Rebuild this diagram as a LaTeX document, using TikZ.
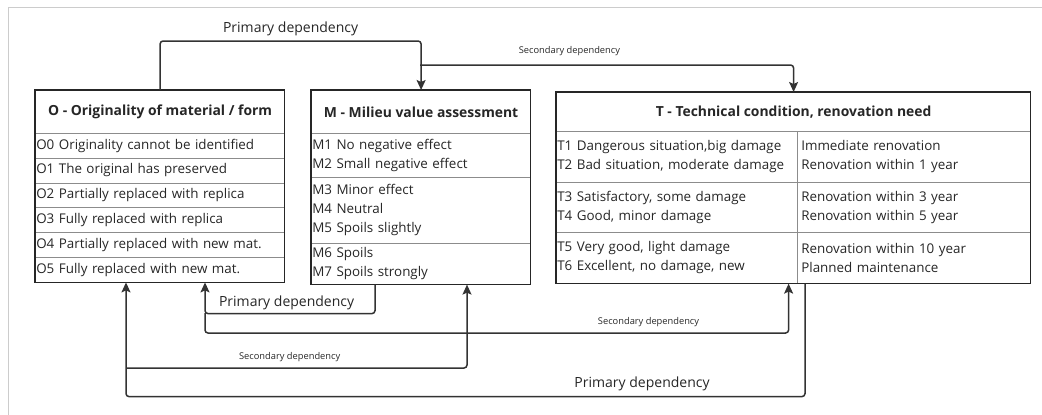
\documentclass[tikz,border=0pt]{standalone}
\usepackage{fontspec}
\setmainfont{Open Sans}
\usetikzlibrary{arrows.meta,positioning}

\begin{document}
\begin{tikzpicture}[x=1pt,y=-1pt,
    dep/.style={draw=black!80,line width=1.5pt,rounded corners=3pt,
      -{Stealth[length=10pt,width=9pt,inset=2pt]}},
    head/.style={draw=black!85,line width=1.2pt,anchor=north west,inner sep=0pt,
      font=\bfseries\fontsize{13.9}{16}\selectfont,text=black!85},
    cell/.style={draw=black!45,line width=0.6pt,anchor=north west,inner xsep=1pt,
      inner ysep=0pt,align=left,font=\fontsize{13.4}{19}\selectfont,text=black!85},
    frame/.style={draw=black!85,line width=1.2pt},
    plbl/.style={font=\fontsize{14}{16}\selectfont,text=black!85},
    slbl/.style={font=\fontsize{9.3}{11}\selectfont,text=black!85}]
  \useasboundingbox (0,0) rectangle (1042,415);
  \draw[black!20,line width=0.8pt] (8,415) -- (8,7) -- (1042,7);

  % O - originality
  \node[head,minimum width=249pt,minimum height=43pt] (Ohead) at (35,90)
    {O - Originality of material / form};
  \foreach \txt [count=\i from 0] in {{O0 Originality cannot be identified},
      {O1 The original has preserved},{O2 Partially replaced with replica},
      {O3 Fully replaced with replica},{O4 Partially replaced with new mat.},
      {O5 Fully replaced with new mat.}}
    \node[cell,minimum width=249pt,text width=247pt,minimum height=24.8pt]
      (O\i) at (35,{133+24.8*\i}) {\txt};
  \draw[frame] (Ohead.north west) rectangle (O5.south east);

  % M - milieu
  \node[head,minimum width=219pt,minimum height=43pt] (Mhead) at (311,90)
    {M - Milieu value assessment};
  \node[cell,minimum width=219pt,text width=217pt,minimum height=44pt] (M1) at (311,133)
    {M1 No negative effect\\M2 Small negative effect};
  \node[cell,minimum width=219pt,text width=217pt,minimum height=66pt] (M2) at (311,177)
    {M3 Minor effect\\M4 Neutral\\M5 Spoils slightly};
  \node[cell,minimum width=219pt,text width=217pt,minimum height=41pt] (M3) at (311,243)
    {M6 Spoils\\M7 Spoils strongly};
  \draw[frame] (Mhead.north west) rectangle (M3.south east);

  % T - technical condition
  \node[head,minimum width=474pt,minimum height=39pt] (Thead) at (556,92)
    {T - Technical condition, renovation need};
  \node[cell,minimum width=241pt,text width=239pt,minimum height=51pt] (T1a) at (556,131)
    {T1 Dangerous situation,big damage\\T2 Bad situation, moderate damage};
  \node[cell,minimum width=233pt,text width=225pt,inner xsep=4pt,minimum height=51pt] (T1b) at (797,131)
    {Immediate renovation\\Renovation within 1 year};
  \node[cell,minimum width=241pt,text width=239pt,minimum height=50pt] (T3a) at (556,182)
    {T3 Satisfactory, some damage\\T4 Good, minor damage};
  \node[cell,minimum width=233pt,text width=225pt,inner xsep=4pt,minimum height=50pt] (T3b) at (797,182)
    {Renovation within 3 year\\Renovation within 5 year};
  \node[cell,minimum width=241pt,text width=239pt,minimum height=51pt] (T5a) at (556,232)
    {T5 Very good, light damage\\T6 Excellent, no damage, new};
  \node[cell,minimum width=233pt,text width=225pt,inner xsep=4pt,minimum height=51pt] (T5b) at (797,232)
    {Renovation within 10 year\\Planned maintenance};
  \draw[frame] (Thead.north west) rectangle (T5b.south east);

  % dependencies
  \coordinate (forkA) at (420,65);
  \coordinate (forkB) at (205,313);
  \coordinate (forkC) at (126,368);
  \draw[dep] (Ohead.north) -- ++(0,-49) -| (Mhead.north)
    node[plbl,pos=0.25,above=1pt] (lblOM) {Primary dependency};
  \draw[dep] (forkA) -| (Thead.north)
    node[slbl,pos=0.2,above=5pt] (lblOT) {Secondary dependency};
  \draw[dep] ([xshift=64pt]M3.south west) -- ++(0,29) -| ([xshift=170pt]O5.south west)
    node[plbl,pos=0.26,above=0pt] (lblMO) {Primary dependency};
  \draw[dep] (forkB) -- ++(0,20) -| ([xshift=-9pt]T5a.south east)
    node[slbl,pos=0.38,above=2pt] (lblOT2) {Secondary dependency};
  \draw[dep] ([xshift=8pt]T5b.south west) -- ++(0,113) -| ([xshift=91pt]O5.south west)
    node[plbl,pos=0.12,above=2pt] (lblTO) {Primary dependency};
  \draw[dep] (forkC) -| ([xshift=156pt]M3.south west)
    node[slbl,pos=0.24,above=2pt] (lblOM2) {Secondary dependency};
\end{tikzpicture}
\end{document}
